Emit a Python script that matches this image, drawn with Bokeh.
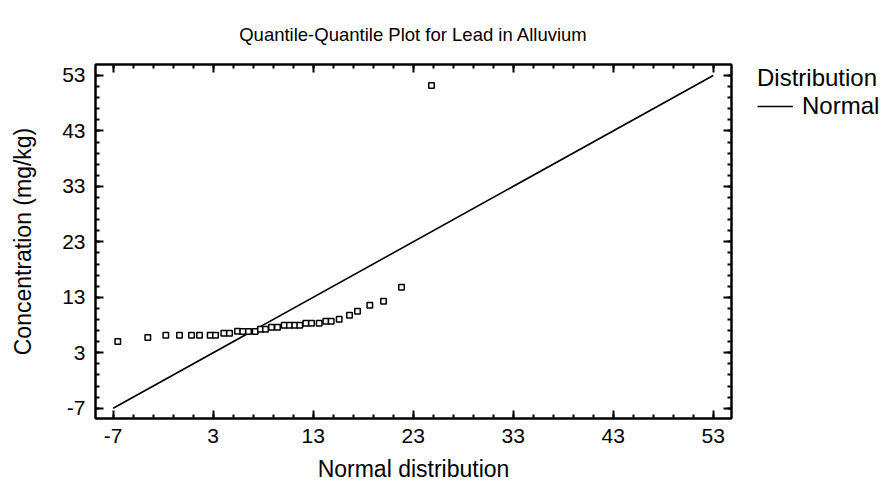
from bokeh.plotting import figure
from bokeh.layouts import row
from bokeh.models import (Range1d, LinearAxis, FixedTicker, Legend, LegendItem,
                          ColumnDataSource, CustomJSTickFormatter)
from bokeh.embed import file_html
from bokeh.resources import INLINE

# Data
normal_q = [-6.54, -3.54, -1.74, -0.37, 0.83, 1.63, 2.70, 3.23, 4.06, 4.63, 5.43, 5.96,
            6.53, 7.20, 7.73, 8.23, 8.83, 9.43, 10.10, 10.63, 11.16, 11.66, 12.26, 12.83,
            13.60, 14.26, 14.80, 15.60, 16.63, 17.43, 18.66, 20.03, 21.83, 24.83]
conc = [5.03, 5.75, 6.17, 6.17, 6.17, 6.17, 6.17, 6.17, 6.53, 6.53, 6.89, 6.85,
        6.85, 6.85, 7.25, 7.25, 7.61, 7.61, 7.97, 7.97, 7.97, 7.97, 8.33, 8.33,
        8.33, 8.69, 8.69, 9.05, 9.77, 10.49, 11.58, 12.30, 14.82, 51.20]
ref_x = [-7, 53]
ref_y = [-7, 53]
major_ticks = [-7, 3, 13, 23, 33, 43, 53]
minor_ticks = list(range(-7, 54, 2))

FONT = "Liberation Sans"

p = figure(width=735, height=489, output_backend="svg", toolbar_location=None,
           x_range=Range1d(-8.77, 54.83), y_range=Range1d(-8.86, 54.98),
           min_border_left=95, min_border_right=4, min_border_top=64, min_border_bottom=71,
           x_axis_location=None, y_axis_location=None)
p.background_fill_color = "white"
p.border_fill_color = "white"
p.grid.visible = False
p.outline_line_color = "black"
p.outline_line_width = 2

p.title.text = "Quantile-Quantile Plot for Lead in Alluvium"
p.title.align = "center"
p.title.text_font = FONT
p.title.text_font_style = "normal"
p.title.text_font_size = "18.5px"
p.title.text_color = "black"
p.title.standoff = 40

def make_axis(label=None, show_labels=True):
    ax = LinearAxis(ticker=FixedTicker(ticks=major_ticks, minor_ticks=minor_ticks))
    ax.axis_line_width = 2
    ax.axis_line_color = "black"
    ax.major_tick_line_width = 2
    ax.minor_tick_line_width = 2
    ax.major_tick_line_color = "black"
    ax.minor_tick_line_color = "black"
    ax.major_tick_in = 8
    ax.major_tick_out = 0
    ax.minor_tick_in = 4
    ax.minor_tick_out = 0
    ax.major_label_text_font = FONT
    ax.major_label_text_font_size = "21px"
    ax.major_label_text_color = "black"
    ax.major_label_standoff = 10
    if show_labels:
        ax.formatter = CustomJSTickFormatter(code="return tick.toFixed(0);")
    else:
        ax.formatter = CustomJSTickFormatter(code="return '';")
        ax.major_label_text_font_size = "1px"
        ax.major_label_standoff = 0
    if label:
        ax.axis_label = label
        ax.axis_label_text_font = FONT
        ax.axis_label_text_font_style = "normal"
        ax.axis_label_text_font_size = "23px"
        ax.axis_label_text_color = "black"
        ax.axis_label_standoff = 10
    return ax

xa = make_axis("Normal distribution")
ya = make_axis("Concentration (mg/kg)")
ya.axis_label_standoff = 23
p.add_layout(xa, "below")
p.add_layout(ya, "left")
p.add_layout(make_axis(show_labels=False), "above")
p.add_layout(make_axis(show_labels=False), "right")

p.line(ref_x, ref_y, line_color="black", line_width=1.6)
src = ColumnDataSource(dict(x=normal_q, y=conc))
p.scatter("x", "y", source=src, marker="square", size=5.5, fill_color="white",
          line_color="black", line_width=1.5)

# Legend panel to the right of the plot
p2 = figure(width=160, height=489, output_backend="svg", toolbar_location=None,
            x_range=Range1d(100, 101), y_range=Range1d(100, 101),
            min_border_left=22, min_border_right=0, min_border_top=57, min_border_bottom=0,
            x_axis_location=None, y_axis_location=None)
p2.grid.visible = False
p2.outline_line_color = None
p2.background_fill_color = "white"
p2.border_fill_color = "white"
leg_line = p2.line(ref_x, ref_y, line_color="black", line_width=1.6)

legend = Legend(items=[LegendItem(label="Normal", renderers=[leg_line])],
                title="Distribution", location="top_left")
legend.border_line_color = None
legend.background_fill_alpha = 0
legend.title_text_font = FONT
legend.title_text_font_style = "normal"
legend.title_text_font_size = "24px"
legend.title_text_color = "black"
legend.label_text_font = FONT
legend.label_text_font_size = "24px"
legend.label_text_color = "black"
legend.glyph_width = 36
legend.label_standoff = 9
legend.margin = 0
legend.padding = 0
legend.spacing = 0
legend.title_standoff = 0
p2.add_layout(legend, "center")

layout = row(p, p2)
open("out.html", "w").write(file_html(layout, INLINE))
